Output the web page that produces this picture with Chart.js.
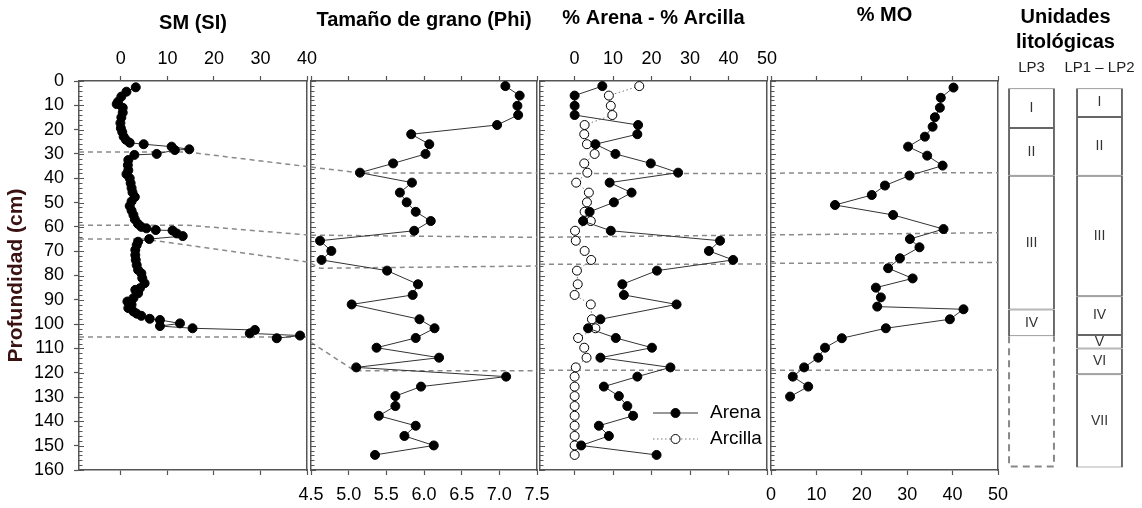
<!DOCTYPE html>
<html>
<head>
<meta charset="utf-8">
<script src="https://cdn.jsdelivr.net/npm/chart.js@4.4.0/dist/chart.umd.min.js"></script>
<style>
  body { margin: 0; background: #fff; }
  #wrap { position: relative; width: 1142px; height: 508px; background: #fff; }
  #wrap canvas { position: absolute; left: 0; top: 0; }
</style>
</head>
<body>
<div id="wrap">
  <canvas id="cSM" width="1142" height="508"></canvas>
  <canvas id="cPhi" width="1142" height="508"></canvas>
  <canvas id="cArena" width="1142" height="508"></canvas>
  <canvas id="cMO" width="1142" height="508"></canvas>
  <canvas id="cUnits" width="1142" height="508"></canvas>
</div>
<script>
const FONT = 'Arial, "Liberation Sans", sans-serif';
Chart.defaults.font.family = FONT;
Chart.defaults.color = '#000';

// ---- datos ----
const depthTicks = [0, 10, 20, 30, 40, 50, 60, 70, 80, 90, 100, 110, 120, 130, 140, 150, 160];
const smTicks = [0, 10, 20, 30, 40];
const phiTicks = [4.5, 5.0, 5.5, 6.0, 6.5, 7.0, 7.5];
const pctTicks = [0, 10, 20, 30, 40, 50];

// susceptibilidad magnetica
const smDepth = [2.6, 4.4, 6.4, 8.5, 9.5, 11, 13, 15, 17.3, 19.4, 21, 22.9, 24.2, 25.4, 26, 27, 28.1, 28.4, 30, 30.4,
  32.5, 34.6, 36.7, 38.3, 40, 42, 44, 45.8, 47.7, 49.5, 51.4, 53.3, 55.1, 56.9, 58.8, 60, 60.6, 61.3, 61.5, 62.7,
  63.8, 65, 66.1, 67.5, 69.5, 71.6, 73.6, 75.7, 77.7, 79.1, 81.1, 83.2, 85.2, 85.9, 87.3, 89.3, 90.7, 92, 93.4, 94.8,
  95.7, 96.6, 97.8, 98.3, 99.7, 100.8, 101.7, 102.4, 103.8, 104.7, 105.8];
const smValue = [3.2, 1.2, 0.1, -0.6, -0.9, 0.4, 0.4, 0.1, -0.1, 0, 0.3, 0.6, 1.1, 1.9, 4.9, 10.9, 14.7, 11.6, 7.7, 2.9,
  1.6, 1.5, 1.6, 1.2, 1.9, 2.1, 2.3, 2.5, 3, 2.3, 1.9, 2.3, 2.7, 3, 3.7, 4.4, 5.5, 7.5, 11.1, 12,
  13.3, 6.1, 3.7, 3.4, 3.1, 3.1, 3.2, 3.4, 3.7, 4.4, 4.6, 5.1, 4.1, 3.1, 3.7, 2.7, 1.4, 2.3, 1.6, 2.7,
  3.4, 4.4, 6.2, 8.4, 12.7, 8.4, 15.4, 28.8, 27.7, 38.5, 33.5];

// granulometria (mismas profundidades)
const grainDepth = [2.1, 6, 10.2, 14, 18.1, 21.9, 26, 30, 33.9, 37.7, 41.8, 45.9, 49.9, 53.8, 57.6, 61.6, 65.7, 69.9, 73.6,
  78, 83.6, 88, 91.9, 98, 101.7, 105.7, 109.7, 113.8, 117.8, 121.6, 125.7, 129.6, 133.7, 137.7, 141.8, 146, 149.9, 153.8];
const phiValue = [7.08, 7.27, 7.24, 7.25, 6.97, 5.83, 6.07, 6.02, 5.59, 5.15, 5.84, 5.68, 5.77, 5.89, 6.09, 5.87, 4.62, 4.77, 4.64,
  5.51, 5.92, 5.85, 5.04, 5.94, 6.14, 5.89, 5.37, 6.2, 5.1, 7.09, 5.96, 5.62, 5.62, 5.4, 5.89, 5.74, 6.13, 5.35];
const arenaValue = [7.2, 0, 0, 0, 16.5, 16.3, 5.4, 10.6, 19.8, 26.9, 9.1, 14.8, 10.2, 3.9, 2.2, 9.4, 37.8, 34.9, 41.2,
  21.4, 12.4, 12.8, 26.5, 6.7, 3.5, 10.7, 20.1, 6.7, 24.9, 16.3, 7.6, 11.5, 13.7, 15.2, 6.3, 8.9, 1.7, 21.3];
const arcillaValue = [16.8, 8.9, 9.4, 9.8, 2.6, 2.5, 3.2, 5.2, 2.5, 3.3, 0.4, 3.7, 3.2, 2.6, 4.2, 0.1, 0.3, 2.6, 4.3,
  0.6, 0.8, 0, 4.2, 4.5, 5.4, 0.9, 2.5, 3.1, 0.3, 0, 0, 0, 0, 0, 0, 0, 0, 0];

// materia organica
const moDepth = [2.7, 6.9, 11, 14.9, 18.8, 22.9, 27, 30.7, 34.8, 38.9, 43, 46.9, 51, 55.1, 60.9, 65, 68.4, 72.9, 77, 81.2,
  85, 89, 92.8, 93.9, 98, 101.7, 105.8, 109.7, 113.8, 117.8, 121.6, 125.7, 129.8];
const moValue = [40.2, 37.4, 37.2, 36.1, 35.6, 33.9, 30.2, 34.4, 37.8, 30.5, 25.1, 22.2, 14.1, 26.9, 38, 30.6, 32.7, 28.4, 25.8, 31.2,
  23.1, 24.2, 23.4, 42.4, 39.4, 25.3, 15.6, 11.9, 10.4, 7.3, 4.8, 8.2, 4.2];

// lineas de correlacion [valor, profundidad] en cada panel
const corrSM = [[[-9, 29.2], [14.2, 29.2], [40, 35.2]], [[-9, 59.3], [14.2, 59.3], [40, 63.3]],
  [[-9, 65], [5, 65], [40, 74.4]], [[-9, 105.3], [40, 105.3]]];
const corrPhi = [[[4.5, 35.4], [5.15, 37.8], [7.5, 37.8]], [[4.5, 63.4], [7.5, 64.3]],
  [[4.5, 75], [4.62, 77], [7.5, 76.1]], [[4.5, 107.5], [5.08, 119.2], [7.5, 119.2]]];
const corrArena = [[[-9, 38], [50, 38]], [[-9, 64.3], [50, 63.3]], [[-9, 75.4], [50, 75.3]], [[-9, 119], [50, 119]]];
const corrMO = [[[0, 37.9], [50, 37.7]], [[0, 63.3], [50, 62.4]], [[0, 75], [50, 74.6]], [[0, 119], [50, 118.9]]];

// unidades litologicas
const unitCols = ['LP3', 'LP1 – LP2'];
const lp3Names = ['I', 'II', 'III', 'IV'];
const lp3Top = [3, 19.3, 39, 94];
const lp3Base = [19.3, 39, 94, 105];
const lp3Unknown = [105, 159];
const lp12Names = ['I', 'II', 'III', 'IV', 'V', 'VI', 'VII'];
const lp12Top = [3, 14.8, 39, 88.5, 104.5, 110, 120.6];
const lp12Base = [14.8, 39, 88.5, 104.5, 110, 120.6, 159];

// ---- helpers ----
const AXIS = '#555';

function pts(depths, vals) {
  return depths.map((d, i) => ({ x: vals[i], y: d }));
}

function corrSets(lines) {
  return lines.map(l => ({
    data: l.map(p => ({ x: p[0], y: p[1] })),
    showLine: true, pointRadius: 0,
    borderColor: '#8a8a8a', borderWidth: 1.5, borderDash: [5, 4]
  }));
}

function xScale(pos, min, max, ticks, o) {
  return {
    type: 'linear', position: pos, min: min, max: max,
    afterBuildTicks: s => { s.ticks = ticks.map(v => ({ value: v })); },
    afterFit: s => { s.height = pos === 'top' ? 81 : 38; },
    grid: { drawOnChartArea: false, drawTicks: true, tickLength: 5, tickColor: AXIS, tickWidth: 1.2 },
    border: { display: true, color: AXIS, width: 1.5 },
    ticks: { display: !!o.labels, autoSkip: false, maxRotation: 0, padding: pos === 'top' ? 6 : 9,
      font: { size: 18 }, callback: o.fmt || (v => v) },
    title: o.title
      ? { display: true, text: o.title, color: '#000', font: { size: 20, weight: 'bold' }, padding: { top: o.titleTop, bottom: 0 } }
      : { display: false }
  };
}

function yScale(pos, labels) {
  return {
    type: 'linear', position: pos, reverse: true, min: 0, max: 160,
    afterBuildTicks: s => { s.ticks = depthTicks.map(v => ({ value: v })); },
    afterFit: s => { s.width = labels ? 79 : 0; },
    grid: { drawOnChartArea: false, drawTicks: labels, tickLength: 5, tickColor: AXIS, tickWidth: 1.2 },
    border: { display: true, color: AXIS, width: 1.5 },
    ticks: { display: labels, autoSkip: false, padding: 10, font: { size: 18 } },
    title: labels
      ? { display: true, text: 'Profundidad (cm)', color: '#3a1212', font: { size: 21, weight: 'bold' }, padding: { top: 4, bottom: 0 } }
      : { display: false }
  };
}

// marcas menores hacia adentro en el eje de profundidad
const innerTicks = {
  id: 'innerTicks',
  afterDraw(chart) {
    const { ctx, chartArea: ca } = chart;
    const y = chart.scales.y;
    ctx.save();
    ctx.strokeStyle = AXIS;
    ctx.lineWidth = 1;
    for (let d = 0; d <= 160; d += 2) {
      const py = Math.round(y.getPixelForValue(d)) + 0.5;
      const len = d % 10 === 0 ? 5 : 3.5;
      ctx.beginPath();
      ctx.moveTo(ca.left, py);
      ctx.lineTo(ca.left + len, py);
      ctx.stroke();
    }
    ctx.restore();
  }
};

// leyenda dentro del panel de arena / arcilla
const insetLegend = {
  id: 'insetLegend',
  afterDraw(chart, args, opts) {
    if (!opts.items) return;
    const { ctx, chartArea: ca } = chart;
    ctx.save();
    opts.items.forEach((idx, k) => {
      const ds = chart.data.datasets[idx];
      const x0 = ca.left + opts.left;
      const y = ca.bottom - opts.bottom + k * opts.gap;
      ctx.strokeStyle = ds.borderColor;
      ctx.lineWidth = ds.borderWidth;
      ctx.setLineDash(ds.borderDash || []);
      ctx.beginPath();
      ctx.moveTo(x0, y);
      ctx.lineTo(x0 + opts.len, y);
      ctx.stroke();
      ctx.setLineDash([]);
      ctx.beginPath();
      ctx.arc(x0 + opts.len / 2, y, ds.pointRadius, 0, Math.PI * 2);
      ctx.fillStyle = ds.pointBackgroundColor;
      ctx.fill();
      ctx.lineWidth = ds.pointBorderWidth;
      ctx.strokeStyle = ds.pointBorderColor;
      ctx.stroke();
      ctx.fillStyle = '#000';
      ctx.font = '19px ' + FONT;
      ctx.textBaseline = 'middle';
      ctx.fillText(ds.label, x0 + opts.len + 12, y);
    });
    ctx.restore();
  }
};

function dataSet(label, depths, vals, open) {
  return {
    label: label,
    data: pts(depths, vals),
    showLine: true,
    borderColor: open ? '#777' : '#333',
    borderWidth: 1,
    borderDash: open ? [1.5, 2.5] : [],
    pointRadius: 4.5,
    pointBackgroundColor: open ? '#fff' : '#000',
    pointBorderColor: '#000',
    pointBorderWidth: 1
  };
}

function makePanel(id, p) {
  const yw = p.yLabels ? 79 : 0;
  return new Chart(document.getElementById(id), {
    type: 'scatter',
    data: { datasets: p.datasets },
    options: {
      responsive: false, animation: false, devicePixelRatio: 1, events: [],
      layout: { padding: { left: p.left - yw, right: 1142 - p.right, top: 0, bottom: 0 } },
      plugins: { legend: { display: false }, tooltip: { enabled: false }, insetLegend: p.legend || {} },
      scales: {
        x: xScale('bottom', p.min, p.max, p.ticks, { labels: p.bottomLabels, fmt: p.fmt }),
        xTop: xScale('top', p.min, p.max, p.ticks, { labels: !p.bottomLabels, fmt: p.fmt, title: p.title, titleTop: p.titleTop }),
        y: yScale('left', !!p.yLabels),
        yRight: yScale('right', false)
      }
    },
    plugins: [innerTicks, insetLegend]
  });
}

// ---- paneles ----
makePanel('cSM', {
  left: 79, right: 307, min: -9, max: 40, ticks: smTicks, bottomLabels: false,
  title: 'SM (SI)', titleTop: 11, yLabels: true,
  datasets: [dataSet('SM', smDepth, smValue, false)].concat(corrSets(corrSM))
});

makePanel('cPhi', {
  left: 311, right: 537, min: 4.5, max: 7.5, ticks: phiTicks, bottomLabels: true, fmt: v => v.toFixed(1),
  title: 'Tamaño de grano (Phi)', titleTop: 8,
  datasets: [dataSet('Phi', grainDepth, phiValue, false)].concat(corrSets(corrPhi))
});

makePanel('cArena', {
  left: 540, right: 767, min: -9, max: 50, ticks: pctTicks, bottomLabels: false,
  title: '% Arena - % Arcilla', titleTop: 6.5,
  legend: { items: [0, 1], left: 113, len: 45, bottom: 57, gap: 26 },
  datasets: [dataSet('Arena', grainDepth, arenaValue, false), dataSet('Arcilla', grainDepth, arcillaValue, true)]
    .concat(corrSets(corrArena))
});

makePanel('cMO', {
  left: 771, right: 998, min: 0, max: 50, ticks: pctTicks, bottomLabels: true,
  title: '% MO', titleTop: 3.5,
  datasets: [dataSet('MO', moDepth, moValue, false)].concat(corrSets(corrMO))
});

// ---- columnas de unidades ----
const unitNames = [lp3Names, lp12Names];

const unitLabels = {
  id: 'unitLabels',
  afterDatasetsDraw(chart) {
    const ctx = chart.ctx;
    ctx.save();
    chart.data.datasets.forEach((ds, i) => {
      const meta = chart.getDatasetMeta(i);
      meta.data.forEach((el, j) => {
        if (ds.data[j] == null) return;
        const b = el.getProps(['x', 'y', 'base', 'width'], true);
        const top = Math.min(b.y, b.base), bot = Math.max(b.y, b.base);
        if (ds.dashed) {
          ctx.strokeStyle = '#888';
          ctx.lineWidth = 2;
          ctx.setLineDash([7, 5]);
          ctx.beginPath();
          ctx.moveTo(b.x - b.width / 2 + 1, top);
          ctx.lineTo(b.x - b.width / 2 + 1, bot - 1);
          ctx.lineTo(b.x + b.width / 2 - 1, bot - 1);
          ctx.lineTo(b.x + b.width / 2 - 1, top);
          ctx.stroke();
          ctx.setLineDash([]);
          return;
        }
        ctx.fillStyle = '#333';
        ctx.font = '14px ' + FONT;
        ctx.textAlign = 'center';
        ctx.textBaseline = 'middle';
        ctx.fillText(unitNames[j][i], b.x, (top + bot) / 2);
      });
    });
    ctx.restore();
  }
};

const unitSets = lp12Names.map((n, i) => ({
  label: n,
  data: [i < lp3Names.length ? [lp3Top[i], lp3Base[i]] : null, [lp12Top[i], lp12Base[i]]],
  backgroundColor: '#fff',
  borderColor: '#666',
  borderWidth: { left: 2, right: 2, top: 1, bottom: 1 },
  borderSkipped: false,
  grouped: false,
  barPercentage: 0.69,
  categoryPercentage: 1
}));
unitSets.push({
  label: '',
  data: [lp3Unknown, null],
  backgroundColor: 'rgba(0,0,0,0)',
  borderWidth: 0,
  grouped: false,
  dashed: true,
  barPercentage: 0.69,
  categoryPercentage: 1
});

new Chart(document.getElementById('cUnits'), {
  type: 'bar',
  data: { labels: unitCols, datasets: unitSets },
  options: {
    responsive: false, animation: false, devicePixelRatio: 1, events: [],
    layout: { padding: { left: 997.5, right: 8.5, top: 0, bottom: 38 } },
    plugins: { legend: { display: false }, tooltip: { enabled: false } },
    scales: {
      x: {
        type: 'category', position: 'top',
        afterFit: s => { s.height = 81; },
        grid: { display: false, drawTicks: false },
        border: { display: false },
        ticks: { font: { size: 15 }, padding: 4, color: '#222', maxRotation: 0, autoSkip: false },
        title: { display: true, text: ['Unidades', 'litológicas'], color: '#000',
          font: { size: 20, weight: 'bold', lineHeight: 1.25 }, padding: { top: 4.5, bottom: 0 } }
      },
      y: { type: 'linear', display: false, reverse: true, min: 0, max: 160 }
    }
  },
  plugins: [unitLabels]
});
</script>
</body>
</html>
